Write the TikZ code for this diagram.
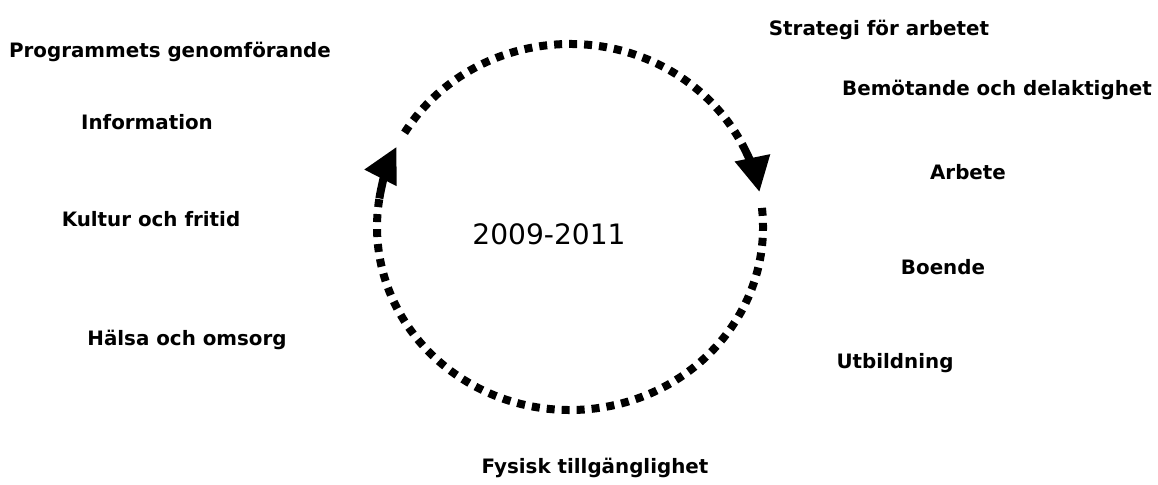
\documentclass[tikz,border=0pt]{standalone}
\usepackage{fontspec}
\setmainfont{DejaVu Sans}
\usetikzlibrary{arrows.meta,positioning,calc}

\begin{document}
\begin{tikzpicture}
[x=0.02cm,y=-0.02cm,
    lab/.style={font=\bfseries\fontsize{11.3}{13}\selectfont,inner sep=1pt},
    yr/.style={font=\fontsize{16}{19}\selectfont,inner sep=1pt},
    dots/.style={line width=0.16cm,dash pattern=on 0.16cm off 0.14cm},
    stem/.style={line width=0.16cm,-{Triangle[length=0.7cm,width=0.68cm]}},
    ring/.style={x radius=193,y radius=183}]
%%%%%%%%%%
\useasboundingbox (0,0) rectangle (1158,484);
%% centre
\coordinate (c) at (570,227);
\node (yr) [yr] at (549,234) {2009-2011};
%% left labels
\node (prog) [lab] at (170,52) {Programmets genomförande};
\node (info) [lab] at (147,122) {Information};
\node (kult) [lab] at (151,219) {Kultur och fritid};
\node (hals) [lab] at (187,340) {Hälsa och omsorg};
%% right labels
\node (strat) [lab] at (879,30) {Strategi för arbetet};
\node (bem) [lab] at (997,90) {Bemötande och delaktighet};
\node (arb) [lab] at (968,172) {Arbete};
\node (boe) [lab] at (943,267) {Boende};
\node (utb) [lab] at (895,363) {Utbildning};
%% bottom
\node (fys) [lab] at (595,468) {Fysisk tillgänglighet};
%% cycle (y runs downwards here)
\draw[dots] ($(c)+(211:193 and 183)$) arc[ring,start angle=211,end angle=333];
\draw[stem] ($(c)+(333:193 and 183)$) arc[ring,start angle=333,end angle=349];
\draw[dots] ($(c)+(-6:193 and 183)$) arc[ring,start angle=-6,end angle=189];
\draw[stem] ($(c)+(189:193 and 183)$) arc[ring,start angle=189,end angle=206];
\end{tikzpicture}
\end{document}
